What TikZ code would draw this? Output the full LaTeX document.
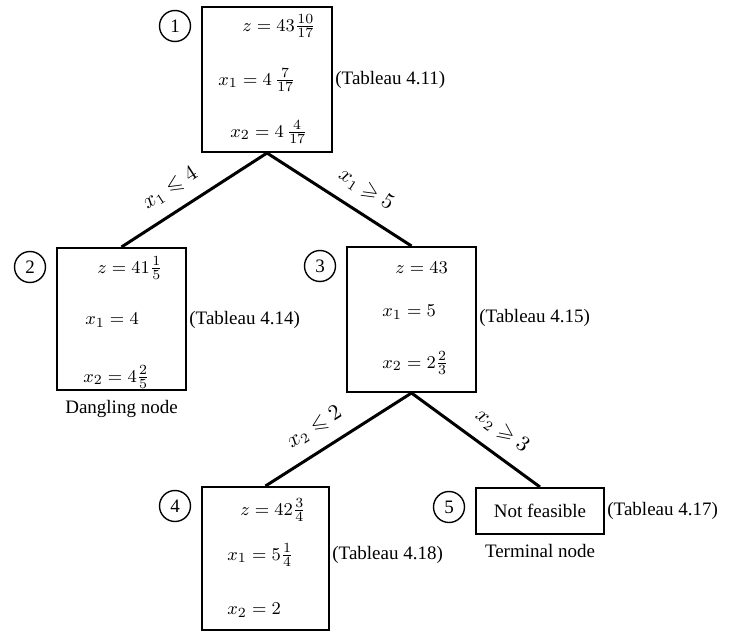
\documentclass[tikz,border=0pt]{standalone}
\usepackage{amsmath, amssymb}
\usepackage{fontspec}
\setmainfont{Liberation Serif}
\usetikzlibrary{positioning}

\begin{document}
\begin{tikzpicture}[x=0.5pt,y=-0.5pt,font=\fontsize{9.5}{11}\selectfont,
		lpbox/.style={draw,line width=1pt,rectangle,inner sep=0pt},
		nodenum/.style={draw,circle,line width=0.7pt,minimum size=15.5pt,inner sep=0pt},
		branch/.style={line width=1.5pt},
		cut/.style={sloped,above=3pt,font=\fontsize{10.5}{12}\selectfont},
		val/.style={anchor=west,inner sep=0pt},
		tab/.style={anchor=west,inner sep=1pt}]
	\useasboundingbox (0,0) rectangle (733,631);
	% boxes
	\node[lpbox,minimum width=65pt,minimum height=72.5pt] (b1) at (267,79.5) {};
	\node[lpbox,minimum width=64.5pt,minimum height=71pt] (b2) at (121.5,319) {};
	\node[lpbox,minimum width=64.5pt,minimum height=72.5pt] (b3) at (411.5,319.5) {};
	\node[lpbox,minimum width=63.5pt,minimum height=71.5pt] (b4) at (265.5,558.5) {};
	\node[lpbox,minimum width=64pt,minimum height=23pt] (b5) at (540,511) {Not feasible};
	% node numbers
	\node[nodenum] (n1) at (175,26) {1};
	\node[nodenum] (n2) at (30,267) {2};
	\node[nodenum] (n3) at (320,266) {3};
	\node[nodenum] (n4) at (175,506) {4};
	\node[nodenum] (n5) at (449,507) {5};
	% values
	\node[val] (z1) at (242,26) {$z = 43\tfrac{10}{17}$};
	\node[val] (p1) at (218,80) {$x_1 = 4\,\tfrac{7}{17}$};
	\node[val] (q1) at (230,132) {$x_2 = 4\,\tfrac{4}{17}$};
	\node[val] (z2) at (97,268) {$z = 41\tfrac{1}{5}$};
	\node[val] (p2) at (85,320) {$x_1 = 4$};
	\node[val] (q2) at (83,377) {$x_2 = 4\tfrac{2}{5}$};
	\node[val] (z3) at (395,268) {$z = 43$};
	\node[val] (p3) at (382,312) {$x_1 = 5$};
	\node[val] (q3) at (382,363) {$x_2 = 2\tfrac{2}{3}$};
	\node[val] (z4) at (240,510) {$z = 42\tfrac{3}{4}$};
	\node[val] (p4) at (227,555) {$x_1 = 5\tfrac{1}{4}$};
	\node[val] (q4) at (227,610) {$x_2 = 2$};
	% tableaus
	\node[tab] (t1) at (b1.east |- p1) {(Tableau 4.11)};
	\node[tab] (t2) at (b2.east |- p2) {(Tableau 4.14)};
	\node[tab] (t3) at (b3.east |- 0,318) {(Tableau 4.15)};
	\node[tab] (t4) at (b4.east |- p4) {(Tableau 4.18)};
	\node[tab] (t5) at (b5.east) {(Tableau 4.17)};
	\node[below=1pt of b2] (dn) {Dangling node};
	\node[below=1pt of b5] (tn) {Terminal node};
	% branches
	\draw[branch] (b2.north) -- node[cut,pos=0.42] {$x_1 \leqslant 4$} (b1.south);
	\draw[branch] (b1.south) -- node[cut,pos=0.6] {$x_1 \geqslant 5$} (b3.north);
	\draw[branch] (b4.north) -- node[cut,pos=0.42] {$x_2 \leqslant 2$} (b3.south);
	\draw[branch] (b3.south) -- node[cut,pos=0.6] {$x_2 \geqslant 3$} (b5.north);
\end{tikzpicture}
\end{document}
